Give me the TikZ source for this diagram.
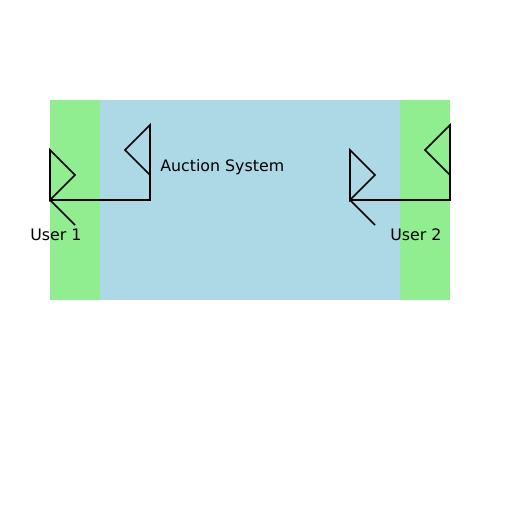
\documentclass[tikz,border=0pt]{standalone}
\usepackage{fontspec}
\setmainfont{DejaVu Sans}
\usetikzlibrary{positioning}
\definecolor{actorgreen}{RGB}{144, 238, 144}
\definecolor{systemblue}{RGB}{173, 216, 230}

\begin{document}
\begin{tikzpicture}[
        x=0.02cm, y=-0.02cm,
        actor/.style={draw=black, line width=0.95pt},
        label/.style={anchor=base west, inner sep=0pt, font=\fontsize{9}{11}\selectfont}
    ]
        \useasboundingbox (0, 0) rectangle (512, 512);
        \fill[systemblue] (100, 100) rectangle (400, 300);
        \fill[actorgreen] (50, 100) rectangle (100, 300);
        \fill[actorgreen] (400, 100) rectangle (450, 300);

        % the two stick figures
        \foreach \dx in {0, 300} {
            \draw[actor] (50+\dx, 150) -- (75+\dx, 175) -- (50+\dx, 200) -- cycle;
            \draw[actor] (50+\dx, 200) -- (75+\dx, 225);
            \draw[actor] (50+\dx, 200) -- (150+\dx, 200) -- (150+\dx, 125) -- (125+\dx, 150) -- (150+\dx, 175);
        }

        \node[label] (system) at (160, 171) {Auction System};
        \node[label] (user1) at (30, 240.5) {User 1};
        \node[label] (user2) at (390, 240.5) {User 2};
    \end{tikzpicture}
\end{document}
